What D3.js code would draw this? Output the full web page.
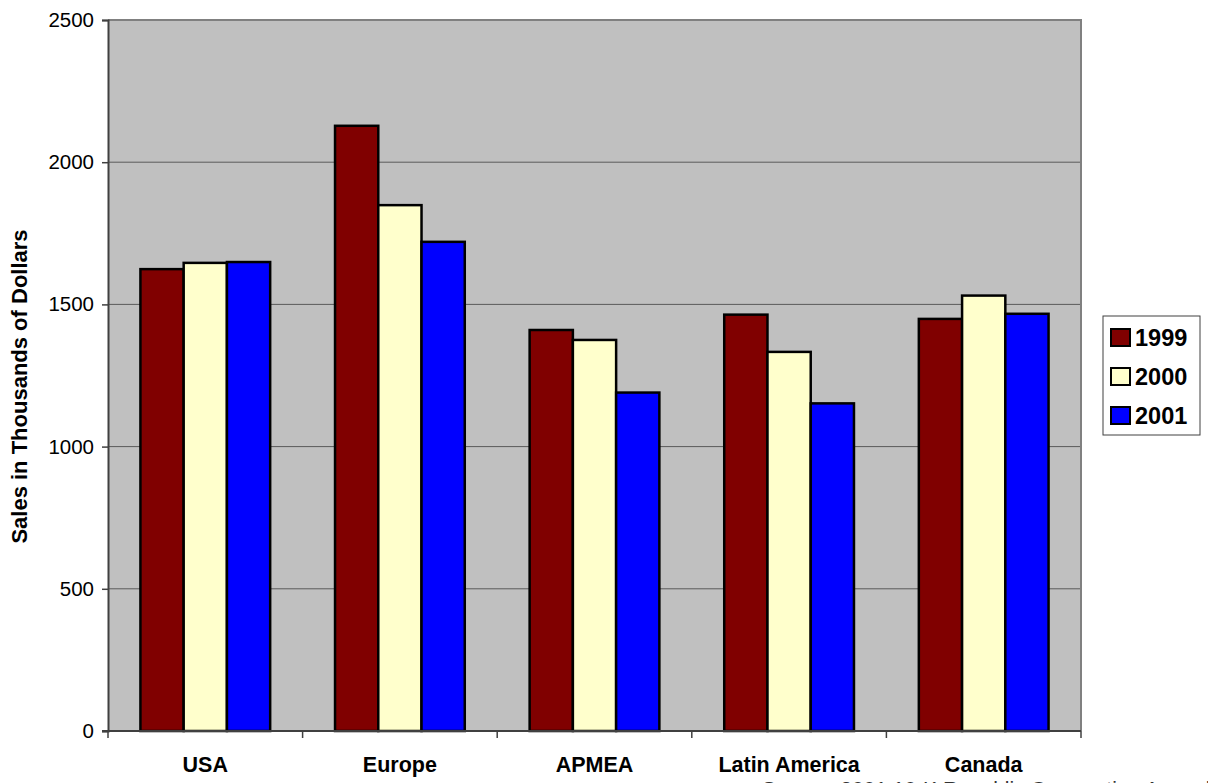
<!DOCTYPE html>
<html>
<head>
<meta charset="utf-8">
<script src="https://cdn.jsdelivr.net/npm/d3@7"></script>
<style>
  html, body { margin: 0; padding: 0; background: #fff; overflow: hidden; }
  svg { display: block; font-family: Arial, "Liberation Sans", sans-serif; }
</style>
</head>
<body>
<svg id="chart" width="1208" height="783"></svg>
<script>
// Regional sales, thousands of dollars
const regions = ["USA", "Europe", "APMEA", "Latin America", "Canada"];
const years = ["1999", "2000", "2001"];
const sales1999 = [1624, 2128, 1410, 1464, 1449];
const sales2000 = [1646, 1849, 1375, 1333, 1531];
const sales2001 = [1649, 1720, 1190, 1152, 1467];
const yTicks = [0, 500, 1000, 1500, 2000, 2500];
const yearColors = ["#800000", "#FFFFCC", "#0000FF"];
const yTitle = "Sales in Thousands of Dollars";
const sourceNote = "Source: 2001 10-K Republic Corporation Annual Report";

const seriesValues = [sales1999, sales2000, sales2001];

const svg = d3.select("#chart");
const plot = { left: 108, top: 20, right: 1081, bottom: 731 };

const x0 = d3.scaleBand().domain(regions).range([plot.left, plot.right]).padding(0);
const x1 = d3.scaleBand().domain(years).range([0, x0.bandwidth()])
  .paddingInner(0).paddingOuter(0.75);
const y = d3.scaleLinear().domain([0, 2500]).range([plot.bottom, plot.top]);
const color = d3.scaleOrdinal().domain(years).range(yearColors);

// plot background
svg.append("rect")
  .attr("x", plot.left).attr("y", plot.top)
  .attr("width", plot.right - plot.left).attr("height", plot.bottom - plot.top)
  .attr("fill", "#C0C0C0");

// horizontal gridlines
svg.append("g").selectAll("line")
  .data(yTicks.filter(t => t > 0 && t < 2500))
  .join("line")
  .attr("x1", plot.left).attr("x2", plot.right)
  .attr("y1", d => y(d)).attr("y2", d => y(d))
  .attr("stroke", "#5a5a5a").attr("stroke-width", 1);

// plot frame on top and right
svg.append("path")
  .attr("d", `M${plot.left},${y(2500)}H${plot.right}V${plot.bottom}`)
  .attr("fill", "none").attr("stroke", "#808080").attr("stroke-width", 2);

// bars
const rows = regions.map((r, i) => ({ region: r, vals: years.map((yr, j) => ({ year: yr, value: seriesValues[j][i] })) }));
svg.append("g").selectAll("g")
  .data(rows)
  .join("g")
  .attr("transform", d => `translate(${x0(d.region)},0)`)
  .selectAll("rect")
  .data(d => d.vals)
  .join("rect")
  .attr("x", d => x1(d.year))
  .attr("y", d => y(d.value))
  .attr("width", x1.bandwidth())
  .attr("height", d => y(0) - y(d.value))
  .attr("fill", d => color(d.year))
  .attr("stroke", "#000").attr("stroke-width", 2.5);

// y axis
const yAxis = svg.append("g")
  .attr("transform", `translate(${plot.left},0)`)
  .call(d3.axisLeft(y).tickValues(yTicks).tickSize(6).tickPadding(8).tickFormat(d3.format("d")));
yAxis.select(".domain").attr("stroke", "#404040").attr("stroke-width", 2);
yAxis.selectAll(".tick line").attr("stroke", "#404040").attr("stroke-width", 1.5);
yAxis.selectAll(".tick text").attr("font-size", 20.5).attr("fill", "#000")
  .attr("font-family", "Arial, 'Liberation Sans', sans-serif");

// x axis baseline and category separators
const xAxis = svg.append("g");
xAxis.append("line")
  .attr("x1", plot.left - 6).attr("x2", plot.right)
  .attr("y1", y(0)).attr("y2", y(0))
  .attr("stroke", "#404040").attr("stroke-width", 2);
const bounds = regions.map(r => x0(r)).concat([x0.range()[1]]);
xAxis.selectAll("line.sep")
  .data(bounds)
  .join("line")
  .attr("class", "sep")
  .attr("x1", d => d).attr("x2", d => d)
  .attr("y1", y(0)).attr("y2", y(0) + 7)
  .attr("stroke", "#404040").attr("stroke-width", 1.5);
xAxis.selectAll("text")
  .data(regions)
  .join("text")
  .attr("x", d => x0(d) + x0.bandwidth() / 2)
  .attr("y", 772)
  .attr("text-anchor", "middle")
  .attr("font-size", 21.5).attr("font-weight", "bold")
  .text(d => d);

// y axis title
svg.append("text")
  .attr("transform", `translate(27,${(plot.top + plot.bottom) / 2 + 11}) rotate(-90)`)
  .attr("text-anchor", "middle")
  .attr("font-size", 22).attr("font-weight", "bold")
  .text(yTitle);

// legend
const legend = svg.append("g");
legend.append("rect")
  .attr("x", 1103).attr("y", 316).attr("width", 97).attr("height", 119)
  .attr("fill", "#fff").attr("stroke", "#404040").attr("stroke-width", 1);
const items = legend.selectAll("g.item")
  .data(years)
  .join("g")
  .attr("class", "item")
  .attr("transform", (d, i) => `translate(1111,${337 + i * 39})`);
items.append("rect")
  .attr("x", 0).attr("y", -8).attr("width", 19).attr("height", 17)
  .attr("fill", d => color(d)).attr("stroke", "#000").attr("stroke-width", 2);
items.append("text")
  .attr("x", 24).attr("y", 8.5)
  .attr("font-size", 23.5).attr("font-weight", "bold")
  .text(d => d);

// source note
svg.append("text")
  .attr("x", 762).attr("y", 796)
  .attr("font-size", 21).attr("fill", "#333")
  .text(sourceNote);
</script>
</body>
</html>
